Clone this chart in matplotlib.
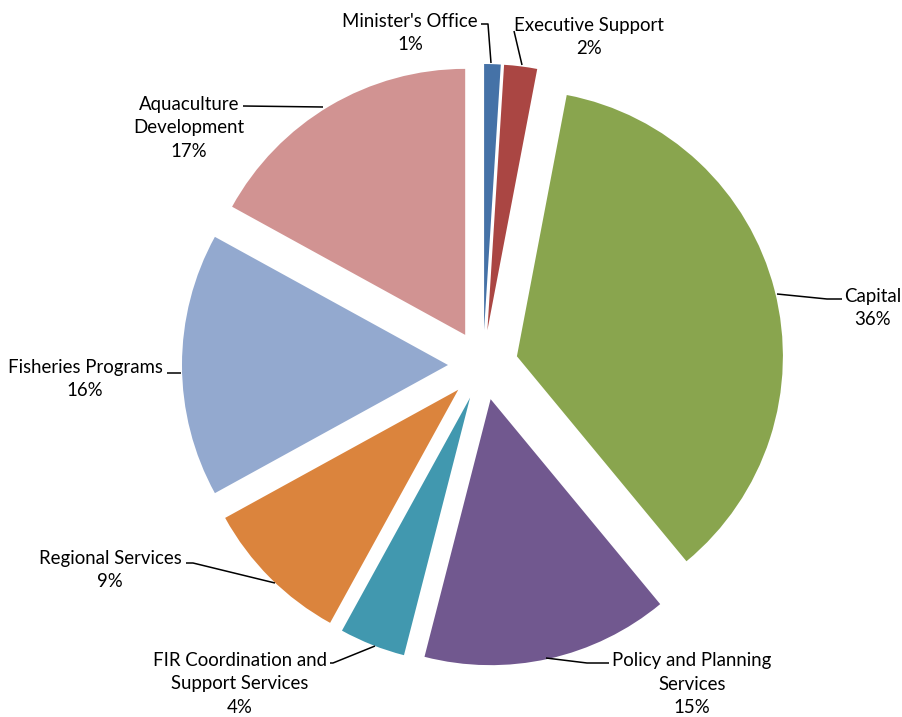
import matplotlib
matplotlib.use("Agg")
import matplotlib.pyplot as plt

# ---- data ----
categories = ["Minister's Office", "Executive Support", "Capital",
              "Policy and Planning\nServices", "FIR Coordination and\nSupport Services",
              "Regional Services", "Fisheries Programs", "Aquaculture\nDevelopment"]
values = [1, 2, 36, 15, 4, 9, 16, 17]
pct_labels = ["1%", "2%", "36%", "15%", "4%", "9%", "16%", "17%"]

# ---- style / layout ----
colors = ["#4572A7", "#AA4643", "#89A54E", "#71588F", "#4198AF",
          "#DB843D", "#93A9CF", "#D19392"]
W, H = 903, 717
center = (483, H - 365)
radius = 266
explode_px = 35

# label block centers (pixel coords, y from top)
label_pos = [(410, 33), (589, 37), (873, 308), (692, 684), (240, 684),
             (110, 570), (85, 379), (189, 128)]
# leader line polylines (pixel coords, y from top)
leaders = [
    [(481, 24), (488, 24), (491, 63)],
    [(514, 31), (522, 65)],
    [(777, 294), (827, 299), (842, 299)],
    [(546, 658), (587, 663), (609, 663)],
    [(330, 663), (333, 663), (375, 646)],
    [(186, 563), (193, 563), (275, 583)],
    [(167, 373), (181, 373)],
    [(243, 106), (323, 107)],
]

fig = plt.figure(figsize=(W / 100, H / 100), dpi=100)
ax = fig.add_axes([0, 0, 1, 1])
ax.pie(values, colors=colors, startangle=90, counterclock=False,
       radius=radius, center=center, explode=[explode_px] * len(values),
       wedgeprops=dict(linewidth=0), frame=False)
ax.set_xlim(0, W)
ax.set_ylim(0, H)
ax.set_aspect('equal')
ax.axis('off')

for cat, pct, (x, y) in zip(categories, pct_labels, label_pos):
    ax.text(x, H - y, cat + "\n" + pct, ha='center', va='center',
            multialignment='center', fontsize=13.4, family=['Lato', 'DejaVu Sans'],
            color='black', linespacing=1.49)

for pts in leaders:
    xs = [p[0] for p in pts]
    ys = [H - p[1] for p in pts]
    ax.plot(xs, ys, color='black', linewidth=1.1, solid_capstyle='butt')

fig.savefig("out.png", dpi=100)
